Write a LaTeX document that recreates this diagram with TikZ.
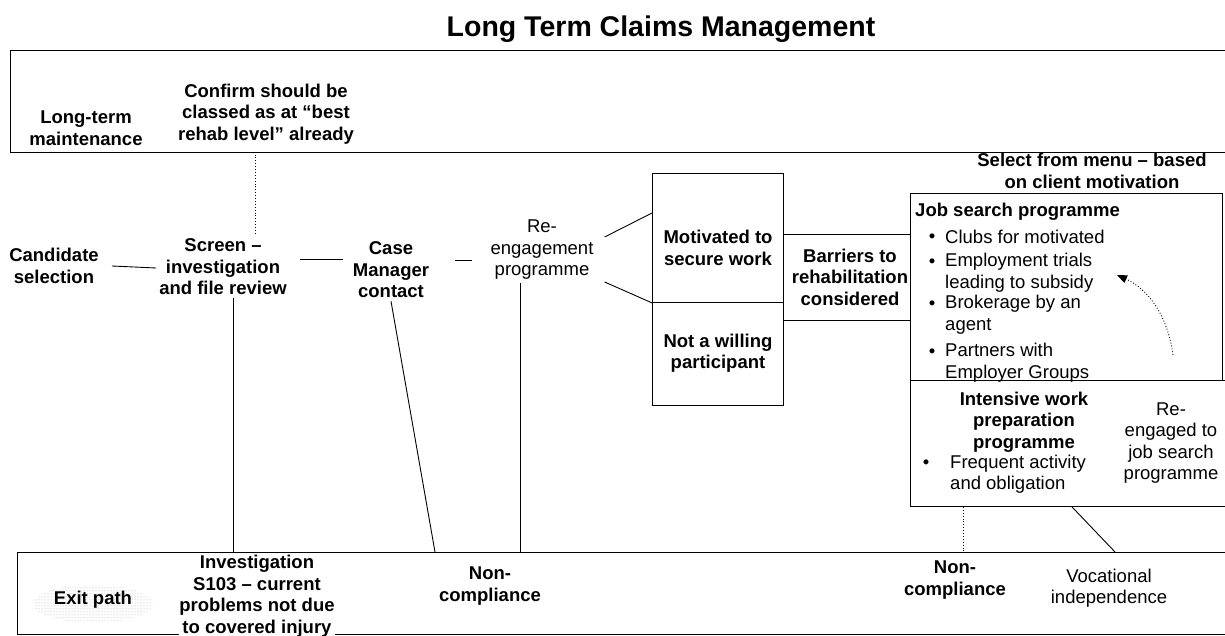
\documentclass[tikz,border=0pt]{standalone}
\usepackage{fontspec}
\setmainfont{Liberation Sans}
\usetikzlibrary{patterns,arrows.meta}

\begin{document}
\begin{tikzpicture}[x=1pt,y=-1pt,
  lbl/.style={font=\fontsize{18.5}{21.5}\selectfont\bfseries, align=center, inner sep=0pt},
  plain/.style={font=\fontsize{18.5}{21.5}\selectfont, align=center, inner sep=0pt},
  itemtxt/.style={font=\fontsize{18.5}{21.5}\selectfont, align=left, inner sep=0pt, anchor=west},
  frame/.style={draw=black, line width=0.9pt, inner sep=0pt, anchor=north west},
  link/.style={draw=black, line width=0.9pt},
  dotlink/.style={draw=black, line width=0.9pt, dotted},
]
\useasboundingbox (0,0) rectangle (1225,636);

% title
\node[font=\fontsize{28.5}{34}\selectfont\bfseries, inner sep=0pt, anchor=base] (title) at (661,37) {Long Term Claims Management};

% frames
\node[frame, minimum width=1240pt, minimum height=102pt] (topbox) at (10,50) {};
\node[frame, minimum width=131pt, minimum height=129pt] (mot) at (652,173) {};
\node[frame, minimum width=131pt, minimum height=103pt] (notw) at (652,302) {};
\node[frame, minimum width=127pt, minimum height=86pt] (barr) at (783,234) {};
\node[frame, minimum width=312pt, minimum height=187pt] (job) at (910,193) {};
\node[frame, minimum width=330pt, minimum height=126pt] (int) at (910,380) {};
\node[frame, minimum width=1230pt, minimum height=82pt] (exitbox) at (17,552) {};

% stippled halo behind the exit label
\fill[pattern=dots, pattern color=gray!70] (93,604) ellipse [x radius=60, y radius=19];

% top band
\node[lbl] (ltm) at (86,128) {Long-term\\maintenance};
\node[lbl] (confirm) at (266,114) {Confirm should be\\classed as at “best\\rehab level” already};
\node[lbl] (select) at (1092,171) {Select from menu – based\\on client motivation};

% main row
\node[lbl] (cand) at (54,266) {Candidate\\selection};
\node[lbl] (screen) at (223,267) {Screen –\\investigation\\and file review};
\node[lbl] (case) at (391,270) {Case\\Manager\\contact};
\node[plain] (reeng) at (542,250) {Re-\\engagement\\programme};
\node[lbl] (motT) at (718,248) {Motivated to\\secure work};
\node[lbl] (notT) at (718,353) {Not a willing\\participant};
\node[lbl] (barT) at (850,277) {Barriers to\\rehabilitation\\considered};

% job search programme
\node[lbl, anchor=west] (jobT) at (915,212) {Job search programme};
\node[plain] (b1) at (932,238) {•};
\node[itemtxt] (i1) at (945,237) {Clubs for motivated};
\node[plain] (b2) at (932,263) {•};
\node[itemtxt] (i2) at (945,272.5) {Employment trials\\leading to subsidy};
\node[plain] (b3) at (932,305) {•};
\node[itemtxt] (i3) at (945,314.5) {Brokerage by an\\agent};
\node[plain] (b4) at (932,353) {•};
\node[itemtxt] (i4) at (945,362.5) {Partners with\\Employer Groups};

% intensive work preparation
\node[lbl] (intT) at (1024,422) {Intensive work\\preparation\\programme};
\node[plain] (b5) at (926,464) {•};
\node[itemtxt] (i5) at (950,474) {Frequent activity\\and obligation};
\node[plain] (rejT) at (1171,443) {Re-\\engaged to\\job search\\programme};

% exit band
\node[lbl] (exitT) at (93,600) {Exit path};
\node[lbl, fill=white] (invT) at (257,596) {Investigation\\S103 – current\\problems not due\\to covered injury};
\node[lbl] (nc1) at (490,586) {Non-\\compliance};
\node[lbl] (nc2) at (955,580) {Non-\\compliance};
\node[plain] (voc) at (1109,588) {Vocational\\independence};

% connectors
\draw[dotlink] ([xshift=32pt,yshift=5pt]screen.north) -- ([xshift=32pt]screen.north |- topbox.south);
\draw[link] ([xshift=13pt]cand.east) -- ([xshift=-3pt,yshift=-1pt]screen.west);
\draw[link] ([xshift=13.5pt,yshift=8pt]screen.east) -- ([xshift=-10pt,yshift=11pt]case.west);
\draw[link] ([xshift=26pt,yshift=10pt]case.east) -- ([xshift=-18.5pt,yshift=-10pt]reeng.west);
\draw[link] ([xshift=11pt,yshift=13pt]reeng.east) -- ([yshift=-40pt]mot.north west);
\draw[link] ([xshift=11pt,yshift=-32pt]reeng.east) -- (mot.south west);
\draw[link] ([xshift=10pt,yshift=-3pt]screen.south) -- ([xshift=10pt]screen.south |- exitbox.north);
\draw[link] ([yshift=-3pt]case.south) -- ([xshift=44pt]case.south |- exitbox.north);
\draw[link] ([xshift=-22pt,yshift=-3pt]reeng.south) -- ([xshift=-22pt]reeng.south |- exitbox.north);
\draw[dotlink] ([xshift=53pt]int.south west) -- ([xshift=53pt]int.south west |- exitbox.north);
\draw[link] ([xshift=162pt]int.south west) -- ([xshift=205pt]int.south west |- exitbox.north);

% return path to the job search programme
\coordinate (arrS) at (1173,355);
\coordinate (arrE) at (1117,275);
\draw[dotlink, -{Triangle[length=10pt,width=8pt]}] (arrS) .. controls (1168,318) and (1150,290) .. (arrE);
\end{tikzpicture}
\end{document}
